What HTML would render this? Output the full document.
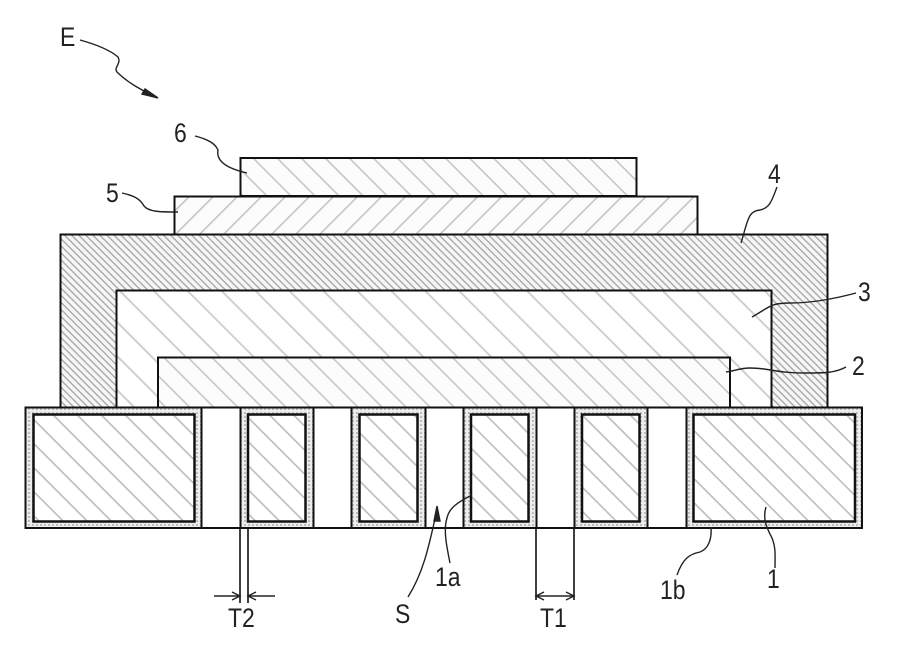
<!DOCTYPE html>
<html><head><meta charset="utf-8"><style>html,body{margin:0;padding:0;background:#fff}svg{display:block}text{font-family:"Liberation Sans",sans-serif;font-size:27px;fill:#222}</style></head><body>
<svg width="899" height="661" viewBox="0 0 899 661" xmlns="http://www.w3.org/2000/svg">
<defs>
<pattern id="p4" width="5" height="5" patternUnits="userSpaceOnUse" patternTransform="rotate(45)"><rect width="5" height="5" fill="#f6f6f6"/><rect width="5" height="1.3" fill="#a4a4a4"/></pattern>
<pattern id="p3" width="24" height="24" patternUnits="userSpaceOnUse" patternTransform="rotate(45)"><rect width="24" height="24" fill="#fff"/><rect width="24" height="2" fill="#d0d0d0"/></pattern>
<pattern id="p2" width="17" height="17" patternUnits="userSpaceOnUse" patternTransform="rotate(45)"><rect width="17" height="17" fill="#fcfcfc"/><rect width="17" height="1.6" fill="#c6c6c6"/></pattern>
<pattern id="p5" width="17" height="17" patternUnits="userSpaceOnUse" patternTransform="rotate(-45)"><rect width="17" height="17" fill="#fcfcfc"/><rect width="17" height="1.6" fill="#c4c4c4"/></pattern>
<pattern id="pc" width="17" height="17" patternUnits="userSpaceOnUse" patternTransform="rotate(45)"><rect width="17" height="17" fill="#fff"/><rect width="17" height="1.6" fill="#bcbcbc"/></pattern>
<pattern id="pf" width="4" height="4" patternUnits="userSpaceOnUse"><rect width="4" height="4" fill="#ececec"/><rect width="2" height="2" fill="#bdbdbd"/></pattern>
</defs>
<g stroke="#111" stroke-width="2">
<rect x="60.5" y="234.5" width="767" height="173" fill="url(#p4)"/>
<rect x="116.5" y="290.5" width="655" height="117" fill="url(#p3)"/>
<rect x="158" y="357.5" width="572" height="50" fill="url(#p2)"/>
<rect x="174.5" y="196.5" width="523" height="38" fill="url(#p5)"/>
<rect x="240.5" y="158" width="396" height="38" fill="url(#p2)"/>
<rect x="25.5" y="407.5" width="836.5" height="120.5" fill="#fff"/>
<rect x="25.5" y="407.5" width="176" height="120.5" fill="url(#pf)"/>
<rect x="240.5" y="407.5" width="73" height="120.5" fill="url(#pf)"/>
<rect x="351.5" y="407.5" width="74" height="120.5" fill="url(#pf)"/>
<rect x="463.5" y="407.5" width="73" height="120.5" fill="url(#pf)"/>
<rect x="574.5" y="407.5" width="73" height="120.5" fill="url(#pf)"/>
<rect x="686.5" y="407.5" width="175.5" height="120.5" fill="url(#pf)"/>
<g stroke-width="2.5" fill="url(#pc)">
<rect x="33.5" y="414.5" width="161" height="107"/>
<rect x="248" y="414.5" width="57.5" height="107"/>
<rect x="359.5" y="414.5" width="58" height="107"/>
<rect x="471" y="414.5" width="57.5" height="107"/>
<rect x="582" y="414.5" width="57.5" height="107"/>
<rect x="693.5" y="414.5" width="161.5" height="107"/>
</g>
</g>
<g fill="none" stroke="#222" stroke-width="1.4">
<path d="M80 40C98 45 110 50 118 57C122 64 112 68 118 73C128 83 142 90 157 98"/>
<path d="M145 89L158 98L142 94Z" fill="#222"/>
<path d="M195 136C207 139 215 143 218 150C216 160 225 168 247 173"/>
<path d="M122 193C135 196 140 199 144 206C149 212 160 212 178 212"/>
<path d="M777 187C772 200 770 208 760 210C748 211 748 220 741 243"/>
<path d="M856 293C830 300 810 303 790 303C770 303 770 307 752 317"/>
<path d="M846 367C835 373 825 373 805 373C775 373 770 368 750 368C740 368 735 371 726 372"/>
<path d="M766 507C762 520 768 530 772 538C776 548 775 556 775 568"/>
<path d="M711 527C712 540 708 549 700 552C690 554 683 558 677 575"/>
<path d="M472 495C458 502 449 508 447 518C443 530 447 548 450 563"/>
<path d="M408 597C425 570 430 540 437 510"/>
<path d="M434 521L437 506L440 521Z" fill="#222"/>
<g stroke="#111" stroke-width="1.6">
<path d="M240 528V603M248 528V603M536 528V600M574 528V600"/>
</g>
<path d="M214 596H240M248 596H275M536 596H574"/>
<path d="M232 592L240 596L232 600M256 592L248 596L256 600M544 592L536 596L544 600M566 592L574 596L566 600"/>
</g>
<text transform="translate(60,46) scale(.85,1)">E</text>
<text transform="translate(174,142) scale(.85,1)">6</text>
<text transform="translate(106,202) scale(.85,1)">5</text>
<text transform="translate(768,183) scale(.85,1)">4</text>
<text transform="translate(858,301) scale(.85,1)">3</text>
<text transform="translate(852,375) scale(.85,1)">2</text>
<text transform="translate(767,588) scale(.85,1)">1</text>
<text transform="translate(660,599) scale(.85,1)">1b</text>
<text transform="translate(435,586) scale(.85,1)">1a</text>
<text transform="translate(395,623) scale(.85,1)">S</text>
<text transform="translate(540,627) scale(.85,1)">T1</text>
<text transform="translate(228,627) scale(.85,1)">T2</text>
</svg>
</body></html>
